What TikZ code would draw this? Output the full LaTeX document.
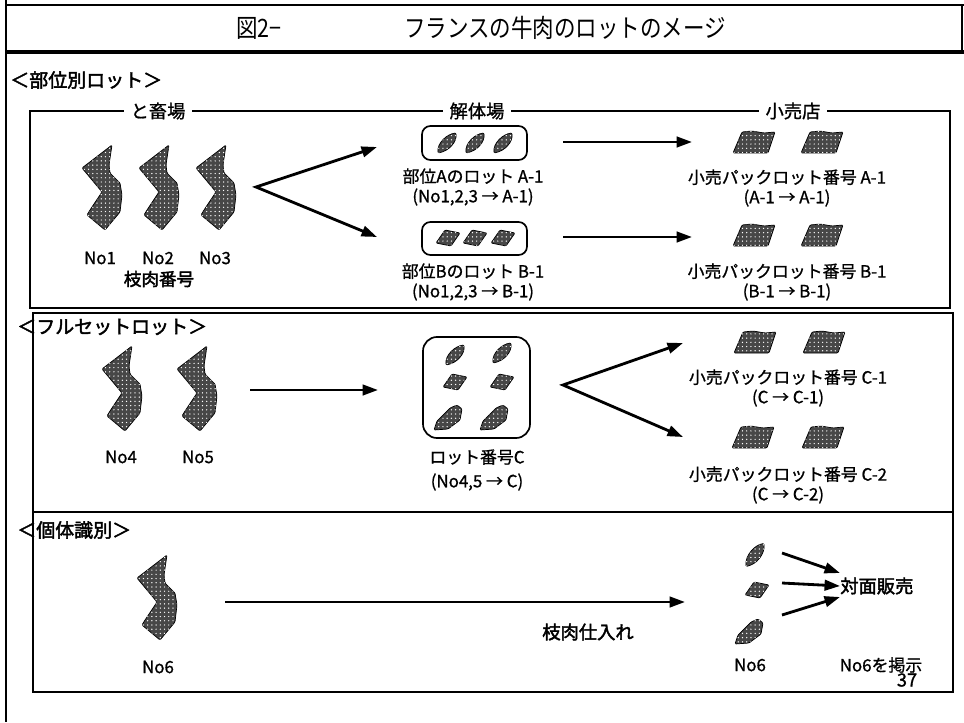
\documentclass[tikz,border=0pt]{standalone}
\usepackage{fontspec}
\setmainfont{Noto Sans CJK JP}[FakeBold=1]
\newfontfamily\heavyjp{Noto Sans CJK JP}[FakeBold=2.2]
\newfontfamily\titlejp{Noto Sans CJK JP}[FakeStretch=0.85]
\usetikzlibrary{arrows.meta,patterns}

\tikzset{
  meat/.style={draw, line width=0.5pt, fill=black!72, rounded corners=0.8pt,
    postaction={pattern=dots, pattern color=white}},
  carcass/.pic={\path[meat] (10,-42) -- (7,-22) -- (8,-14) -- (18,-4) -- (20,8)
    -- (18,25) -- (3,43) -- (-15,28) -- (-12,23) -- (0,5) -- (-20,-19) -- cycle;},
  cutlet/.pic={\path[meat] (-9,10) .. controls (-10,0) and (0,-9) .. (9,-10)
    .. controls (10,-1) and (2,8) .. (-9,10) -- cycle;},
  chunk/.pic={\path[meat] (-12,5) -- (-3,-8) -- (12,-5) -- (3,8) -- cycle;},
  slab/.pic={\path[meat] (-15,12) -- (-12,3) -- (1,-10) -- (8,-13) -- (13,-9)
    -- (11,2) -- (-1,11) -- cycle;},
  pack/.pic={\path[meat] (-12,-10) -- (-2,-11) -- (10,-9) -- (21,-10) -- (14,11)
    -- (-21,11) -- cycle;}
}

\begin{document}
\begin{tikzpicture}[x=0.025cm, y=-0.025cm,
    txt/.style={inner sep=0, align=center, font=\fontsize{12}{14}\selectfont},
    bold/.style={inner sep=0, font=\heavyjp\fontsize{13}{15}\selectfont},
    section/.style={inner sep=0, anchor=west, font=\heavyjp\fontsize{13.5}{15}\selectfont},
    stage/.style={fill=white, inner xsep=5pt, inner ysep=1pt, font=\fontsize{13}{15}\selectfont},
    frame/.style={draw, line width=0.8pt},
    lotbox/.style={draw, line width=1.2pt, inner sep=0},
    arr/.style={line width=2pt, -{Triangle[length=11pt,width=7.5pt]}},
    fork/.style={line width=2pt, line join=miter,
      {Triangle[length=11pt,width=7.5pt]}-{Triangle[length=11pt,width=7.5pt]}}]
  \useasboundingbox (0,0) rectangle (964,722);

  % outer frame and title
  \draw[line width=2pt] (6,0) -- (6,722);
  \draw[line width=1.2pt] (6,5) -- (964,5);
  \draw[line width=1pt] (962,5) -- (962,52);
  \draw[line width=2.2pt] (6,52) -- (964,52);
  \node[inner sep=0, font=\titlejp\fontsize{18}{20}\selectfont] (fignum) at (259,28) {図2−};
  \node[inner sep=0, font=\titlejp\fontsize{18}{20}\selectfont] (title) at (565,28) {フランスの牛肉のロットのメージ};

  % section boxes
  \draw[frame] (30,111) rectangle (950,308);
  \draw[frame] (33,313) rectangle (953,512);
  \draw[frame] (33,512) rectangle (953,692);
  \node[section] (sec1) at (10,80) {＜部位別ロット＞};
  \node[section] (sec2) at (17,327) {＜フルセットロット＞};
  \node[section] (sec3) at (17,530) {＜個体識別＞};
  \node[stage] (slaughter) at (158,111) {と畜場};
  \node[stage] (cutting) at (477,111) {解体場};
  \node[stage] (retail) at (793,111) {小売店};

  % cuts lot
  \pic at (102,187) {carcass};
  \pic at (159,187) {carcass};
  \pic at (216,187) {carcass};
  \node[txt] (no1) at (100,258) {No1};
  \node[txt] (no2) at (158,258) {No2};
  \node[txt] (no3) at (215,258) {No3};
  \node[bold, font=\heavyjp\fontsize{12.5}{14}\selectfont] (carcno) at (159,279) {枝肉番号};
  \coordinate (forkA) at (256,187);
  \coordinate (inA) at (377,147);
  \coordinate (inB) at (377,237);
  \draw[fork] (inA) -- (forkA) -- (inB);

  \node[lotbox, rounded corners=6pt, minimum width=2.625cm, minimum height=0.85cm] (lotA) at (474.5,143) {};
  \pic at (447,143) {cutlet};
  \pic at (475,143) {cutlet};
  \pic at (503,143) {cutlet};
  \node[txt] (lotAtxt) at (473,187) {部位Aのロット A-1\\(No1,2,3 → A-1)};
  \node[lotbox, rounded corners=6pt, minimum width=2.625cm, minimum height=0.825cm] (lotB) at (474.5,238.5) {};
  \pic at (448,238) {chunk};
  \pic at (475,238) {chunk};
  \pic at (503,238) {chunk};
  \node[txt] (lotBtxt) at (473,282) {部位Bのロット B-1\\(No1,2,3 → B-1)};

  \coordinate (outA) at (563,142);
  \coordinate (packA) at (692,142);
  \coordinate (outB) at (563,237);
  \coordinate (packB) at (692,237);
  \draw[arr] (outA) -- (packA);
  \draw[arr] (outB) -- (packB);
  \pic at (754,142) {pack};
  \pic at (822,142) {pack};
  \node[txt] (packAtxt) at (787,188) {小売パックロット番号 A-1\\(A-1 → A-1)};
  \pic at (754,235) {pack};
  \pic at (822,235) {pack};
  \node[txt] (packBtxt) at (787,282) {小売パックロット番号 B-1\\(B-1 → B-1)};

  % full set lot
  \pic at (122,388) {carcass};
  \pic at (197,388) {carcass};
  \node[txt] (no4) at (121,457) {No4};
  \node[txt] (no5) at (198,457) {No5};
  \coordinate (outS) at (250,390);
  \coordinate (inC) at (378,390);
  \draw[arr] (outS) -- (inC);
  \node[lotbox, rounded corners=10pt, minimum width=2.675cm, minimum height=2.525cm] (lotC) at (476.5,387.5) {};
  \pic at (455,355) {cutlet};
  \pic at (502,353) {cutlet};
  \pic at (455,382) {chunk};
  \pic at (502,382) {chunk};
  \pic at (449,418) {slab};
  \pic at (495,418) {slab};
  \node[txt] (lotCtxt) at (477,470) {ロット番号C\\[3pt](No4,5 → C)};
  \coordinate (forkC) at (563,385);
  \coordinate (toC1) at (683,343);
  \coordinate (toC2) at (683,437);
  \draw[fork] (toC1) -- (forkC) -- (toC2);
  \pic at (755,342) {pack};
  \pic at (824,342) {pack};
  \node[txt] (packC1txt) at (788,388) {小売パックロット番号 C-1\\(C → C-1)};
  \pic at (753,437) {pack};
  \pic at (823,437) {pack};
  \node[txt] (packC2txt) at (788,485) {小売パックロット番号 C-2\\(C → C-2)};

  % single animal
  \pic at (157,597) {carcass};
  \node[txt] (no6) at (158,667) {No6};
  \coordinate (outI) at (225,602);
  \coordinate (inI) at (685,602);
  \draw[arr] (outI) -- (inI);
  \node[bold] (buy) at (588,632) {枝肉仕入れ};
  \pic[yscale=1.15] at (755,555) {cutlet};
  \pic at (757,590) {chunk};
  \pic at (750,632) {slab};
  \node[txt] (no6cut) at (750,665) {No6};
  \node[bold, anchor=west] (counter) at (840,586) {対面販売};
  \coordinate (c1) at (782,553);
  \coordinate (c2) at (782,583);
  \coordinate (c3) at (782,615);
  \draw[arr] (c1) -- (counter.west |- 0,573);
  \draw[arr] (c2) -- (counter.west);
  \draw[arr] (c3) -- (counter.west |- 0,597);
  \node[txt] (shown) at (881,665) {No6を掲示};
  \node[txt, font=\fontsize{13}{15}\selectfont] (page) at (907,680) {37};
\end{tikzpicture}
\end{document}
